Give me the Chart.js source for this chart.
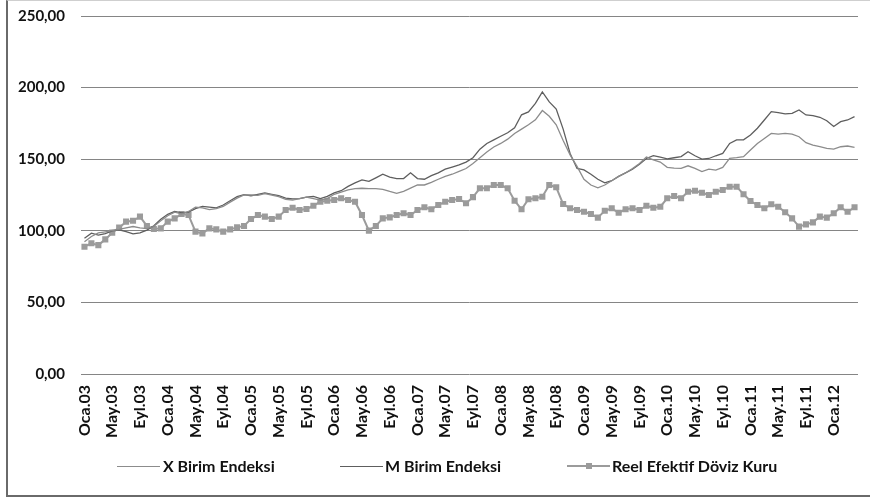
<!DOCTYPE html>
<html><head><meta charset="utf-8">
<script src="https://cdn.jsdelivr.net/npm/chart.js@4.4.1/dist/chart.umd.min.js"></script>
<style>
html,body{margin:0;padding:0;background:#fff;}
#wrap{position:relative;width:870px;height:497px;overflow:hidden;background:#fff;}
#frame{position:absolute;left:6px;top:0;width:870px;height:497px;border-left:2px solid #6a6a6a;border-bottom:2px solid #6a6a6a;border-top:1px solid #cfcfcf;box-sizing:border-box;pointer-events:none;}
#c{position:absolute;left:0;top:0;}
.txt{position:absolute;top:457px;font:bold 16px Lato, sans-serif;color:#111;white-space:nowrap;line-height:18px;}
.ln{position:absolute;top:466px;height:0;width:43px;border-top:1px solid #777;}
.sq{position:absolute;top:463px;width:6px;height:6px;background:#9b9b9b;}
</style>
</head><body>
<div id="wrap">
<canvas id="c" width="870" height="497"></canvas>
<div id="frame"></div>
<div class="ln" style="left:117px;border-top-color:#8c8c8c"></div><div class="txt" style="left:163px">X Birim Endeksi</div>
<div class="ln" style="left:340px;border-top-color:#5e5e5e"></div><div class="txt" style="left:385px">M Birim Endeksi</div>
<div class="ln" style="left:567px;border-top:2px solid #9b9b9b;top:465px"></div><div class="sq" style="left:586px"></div><div class="txt" style="left:612px">Reel Efektif Döviz Kuru</div>
</div>
<script>
// Month abbreviations (Turkish) and years for the monthly categories Oca.03 ... Nis.12
const months = ['Oca','Şub','Mar','Nis','May','Haz','Tem','Ağu','Eyl','Eki','Kas','Ara'];
const years = ['03','04','05','06','07','08','09','10','11','12'];
const categories = [];
years.forEach(y => months.forEach(m => categories.push(m + '.' + y)));
categories.length = 112; // Jan 2003 – Apr 2012

// Tick labels shown on the axis (every fourth month)
const tickLabels = ['Oca.03','May.03','Eyl.03','Oca.04','May.04','Eyl.04','Oca.05','May.05','Eyl.05',
  'Oca.06','May.06','Eyl.06','Oca.07','May.07','Eyl.07','Oca.08','May.08','Eyl.08','Oca.09','May.09',
  'Eyl.09','Oca.10','May.10','Eyl.10','Oca.11','May.11','Eyl.11','Oca.12'];

const yTicks = [0, 50, 100, 150, 200, 250];

const xBirim = [92.4, 96, 98.5, 99.3, 100.2, 101, 102, 103, 102, 101.5, 103, 107, 110.5, 113, 111.8, 113.5,
  116.5, 116, 114.8, 115.5, 117, 120, 122.8, 125, 125, 124.8, 126, 125, 123.8, 122, 121.5,
  122.5, 123.5, 122.5, 121.5, 122.5, 125.5, 127, 128.5, 129.5, 129.7, 129.5, 129.5, 129, 127.5, 126.2,
  127.5, 129.8, 132, 132, 133.8, 136, 138, 139.5, 141.5, 143.5,
  147, 151, 155, 158.5, 161, 164, 168, 171, 174, 177.5, 184, 180, 174, 163, 153, 145, 136, 132, 130,
  132, 135, 138, 140.5, 143.5, 147, 151.5, 149.5, 148,
  144.3, 143.8, 143.6, 145.4, 143.6, 141.3, 143.1, 142.4, 144.3, 150.6, 151.1, 151.8, 156.4, 161,
  164.5, 168, 167.5, 168, 167.5, 165.7, 161.5, 159.9, 158.7, 157.6, 157.1, 158.7, 159.2, 158.3];

const mBirim = [94.8, 98.3, 97, 98, 100, 100.7, 99.5, 97.8, 98.6, 100.5, 103.5, 108, 111.5, 113.5, 112.5, 113,
  115.5, 117, 116.5, 116, 118, 121, 123.8, 125.2, 124.5, 125.5, 126.5, 125.5, 124.5, 122.8, 122.3,
  122.5, 123.5, 124, 122.5, 124, 126.5, 128, 131, 133.5, 135.5, 134.5, 137, 139.5, 137.5, 136.5,
  136.5, 140.5, 136.5, 136, 138.5, 140.5, 143, 144.5, 146, 148,
  151, 157, 161, 163.5, 166, 168.5, 172, 181, 183, 189, 197, 190, 185, 171, 154, 143.5, 142.5, 139.5,
  136, 133.5, 135, 138, 140.5, 143, 146.5, 150.5, 152.5, 151.5,
  150.3, 151, 151.8, 155.2, 152.4, 150, 150.5, 152.4, 154, 161, 163.5, 163.5, 166.9, 171.6, 177.4,
  183.2, 182.5, 181.6, 182, 184.4, 180.9, 180.4, 179.3, 176.9, 172.8, 176.2, 177.4, 179.7];

const reelKur = [88.9, 91.3, 90, 94, 98.7, 102.2, 106.4, 107, 109.9, 103.4, 101.3, 101.7, 106.4, 108.7, 111.7, 111,
  99.4, 98.2, 101.7, 101, 99.4, 101, 102.4, 103.4, 108.2, 111, 109.9, 108.2, 109.9, 114.5, 116.1,
  114.5, 115.2, 117.5, 120.3, 121, 121.5, 122.7, 121.5, 120.3, 111, 100.1, 103.4, 108.7, 109.4, 111,
  112.2, 111, 114.5, 116.4, 115, 118, 120.3, 121.5, 122.2, 119.2, 123.5, 129.7, 129.7, 132, 132,
  129.7, 121, 115, 122, 122.7, 123.8, 132, 130.4, 118.7, 115.7, 114.5, 113.3, 111.7, 109.2, 114,
  115.7, 112.6, 115, 115.7, 114.5, 117.5, 116.1, 116.8, 122.7, 124.3, 122.7, 127.3, 128, 126.6, 125,
  127.3, 128.5, 130.8, 130.8, 125.5, 120.8, 118, 115.7, 118.5, 116.8, 112.9, 108.7, 102.9, 104.5,
  105.9, 109.9, 109.2, 112.2, 116.4, 113.3, 116.4];

const fontFam = 'Lato, sans-serif';

new Chart(document.getElementById('c'), {
  type: 'line',
  data: {
    labels: categories,
    datasets: [
      {label: 'X Birim Endeksi', data: xBirim, borderColor: '#8c8c8c', borderWidth: 1.3, pointRadius: 0, tension: 0, fill: false},
      {label: 'M Birim Endeksi', data: mBirim, borderColor: '#5e5e5e', borderWidth: 1.3, pointRadius: 0, tension: 0, fill: false},
      {label: 'Reel Efektif Döviz Kuru', data: reelKur, borderColor: '#9b9b9b', backgroundColor: '#9b9b9b', borderWidth: 2,
        pointStyle: 'rect', pointRadius: 4.3, pointBorderWidth: 0, tension: 0, fill: false}
    ]
  },
  options: {
    responsive: false,
    devicePixelRatio: 1,
    animation: false,
    events: [],
    layout: {padding: {left: 6, right: 12, top: 16, bottom: 0}},
    plugins: {legend: {display: false}, tooltip: {enabled: false}},
    scales: {
      x: {
        offset: true,
        grid: {display: false, drawTicks: false},
        border: {display: false},
        ticks: {
          autoSkip: false, maxRotation: 90, minRotation: 90, padding: 11,
          color: '#111', font: {family: fontFam, size: 16, weight: 'bold'},
          callback: (v, i) => (i % 4 === 0 ? tickLabels[i / 4] : '')
        },
        afterFit: s => { s.height = 123; s.paddingLeft = 0; s.paddingRight = 0; s.paddingTop = 0; s.paddingBottom = 0; }
      },
      y: {
        min: 0, max: 250,
        afterBuildTicks: s => { s.ticks = yTicks.map(v => ({value: v})); },
        grid: {color: '#858585', lineWidth: 1, drawTicks: false},
        border: {display: false},
        ticks: {
          padding: 16, color: '#111', font: {family: fontFam, size: 15, weight: 'bold'},
          callback: v => v.toFixed(2).replace('.', ',')
        },
        afterFit: s => { s.width = 75; s.paddingTop = 0; s.paddingBottom = 0; s.paddingLeft = 0; s.paddingRight = 0; }
      }
    }
  }
});
</script>
</body></html>
